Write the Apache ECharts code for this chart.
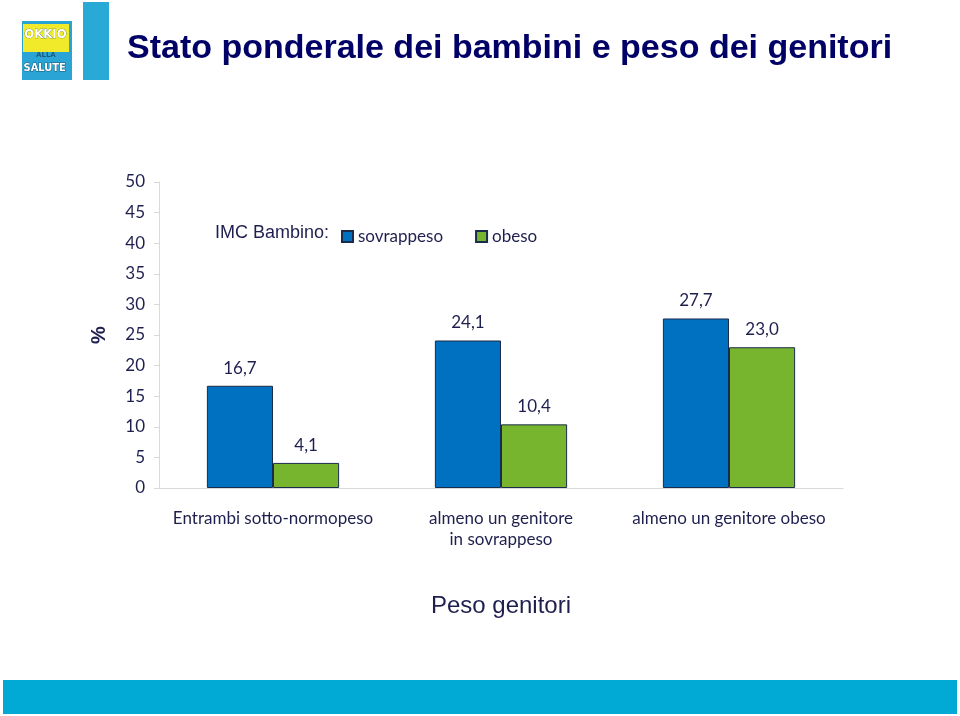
<!DOCTYPE html>
<html>
<head>
<meta charset="utf-8">
<script src="https://cdn.jsdelivr.net/npm/echarts@6/dist/echarts.min.js"></script>
<style>html,body{margin:0;padding:0;background:#fff}#c{width:960px;height:716px}</style>
</head>
<body>
<div id="c"></div>
<script>
const categories = ['Entrambi sotto-normopeso', 'almeno un genitore\nin sovrappeso', 'almeno un genitore obeso'];
const sovrappeso = [16.7, 24.1, 27.7];
const obeso = [4.1, 10.4, 23.0];
const yTicks = [0, 5, 10, 15, 20, 25, 30, 35, 40, 45, 50];

const textColor = '#1f1f4f';
const labelFont = 'Lato, "Open Sans", sans-serif';
const chart = echarts.init(document.getElementById('c'));
const fmt = p => p.value.toFixed(1).replace('.', ',');

chart.setOption({
  animation: false,
  backgroundColor: '#ffffff',
  title: {
    text: 'Stato ponderale dei bambini e peso dei genitori',
    left: 122, top: 27,
    textStyle: { fontFamily: '"Liberation Sans", Arial, sans-serif', fontWeight: 'bold', fontSize: 34, color: '#000066' }
  },
  legend: {
    left: 336, top: 223,
    itemWidth: 11, itemHeight: 11, itemGap: 32,
    icon: 'rect',
    data: ['sovrappeso', 'obeso'],
    textStyle: { fontFamily: labelFont, fontSize: 17, color: textColor }
  },
  grid: { left: 159, right: 117, top: 182, bottom: 228 },
  xAxis: {
    type: 'category',
    data: categories,
    name: 'Peso genitori',
    nameLocation: 'middle',
    nameGap: 106,
    nameTextStyle: { fontFamily: '"Liberation Sans", Arial, sans-serif', fontSize: 24, color: textColor },
    axisLine: { lineStyle: { color: '#d9d9d9' } },
    axisTick: { show: false },
    axisLabel: { margin: 20, fontFamily: labelFont, fontSize: 17, color: textColor, lineHeight: 21, interval: 0 }
  },
  yAxis: {
    type: 'value',
    min: yTicks[0], max: yTicks[yTicks.length - 1], interval: 5,
    name: '%',
    nameLocation: 'middle',
    nameRotate: 90,
    nameGap: 50,
    nameTextStyle: { fontFamily: '"Liberation Sans", Arial, sans-serif', fontSize: 20, fontWeight: 'bold', color: textColor },
    axisLine: { show: true, lineStyle: { color: '#d9d9d9' } },
    axisTick: { show: true, length: 5, lineStyle: { color: '#d9d9d9' } },
    splitLine: { show: false },
    axisLabel: { margin: 14, fontFamily: labelFont, fontSize: 17, color: textColor }
  },
  series: [
    {
      name: 'sovrappeso', type: 'bar', data: sovrappeso,
      barGap: '0%', barCategoryGap: '42%',
      itemStyle: { color: '#0070c0', borderColor: '#1b2b4b', borderWidth: 1 },
      label: { show: true, position: 'top', distance: 9, formatter: fmt, fontFamily: labelFont, fontSize: 17, color: textColor }
    },
    {
      name: 'obeso', type: 'bar', data: obeso,
      itemStyle: { color: '#77b52e', borderColor: '#1b2b4b', borderWidth: 1 },
      label: { show: true, position: 'top', distance: 9, formatter: fmt, fontFamily: labelFont, fontSize: 17, color: textColor }
    }
  ],
  graphic: [
    { type: 'text', left: 215, top: 224, style: { text: 'IMC Bambino:', fontFamily: '"Liberation Sans", Arial, sans-serif', fontSize: 18, fill: textColor } },
    { type: 'rect', shape: { x: 83, y: 2, width: 26, height: 78 }, style: { fill: '#29a9d6' } },
    { type: 'rect', shape: { x: 22, y: 21, width: 50, height: 59 }, style: { fill: '#2aa3d5' } },
    { type: 'rect', shape: { x: 23, y: 24, width: 46, height: 28 }, style: { fill: '#f0ea2a' } },
    { type: 'text', left: 24, top: 28, style: { text: 'OKKIO', fontFamily: '"DejaVu Sans Condensed", sans-serif', fontWeight: 'bold', fontSize: 13, fill: '#ffffff', stroke: '#1e5b7a', lineWidth: 0.5 } },
    { type: 'text', left: 36, top: 52, style: { text: 'ALLA', fontFamily: '"DejaVu Sans", sans-serif', fontWeight: 'bold', fontSize: 7, fill: '#1e5b7a' } },
    { type: 'text', left: 23, top: 62, style: { text: 'SALUTE', fontFamily: '"DejaVu Sans Condensed", sans-serif', fontWeight: 'bold', fontSize: 11, fill: '#ffffff', stroke: '#1e5b7a', lineWidth: 1 } },
    { type: 'rect', shape: { x: 3, y: 680, width: 954, height: 34 }, style: { fill: '#00aad4' } }
  ]
});
</script>
</body>
</html>
